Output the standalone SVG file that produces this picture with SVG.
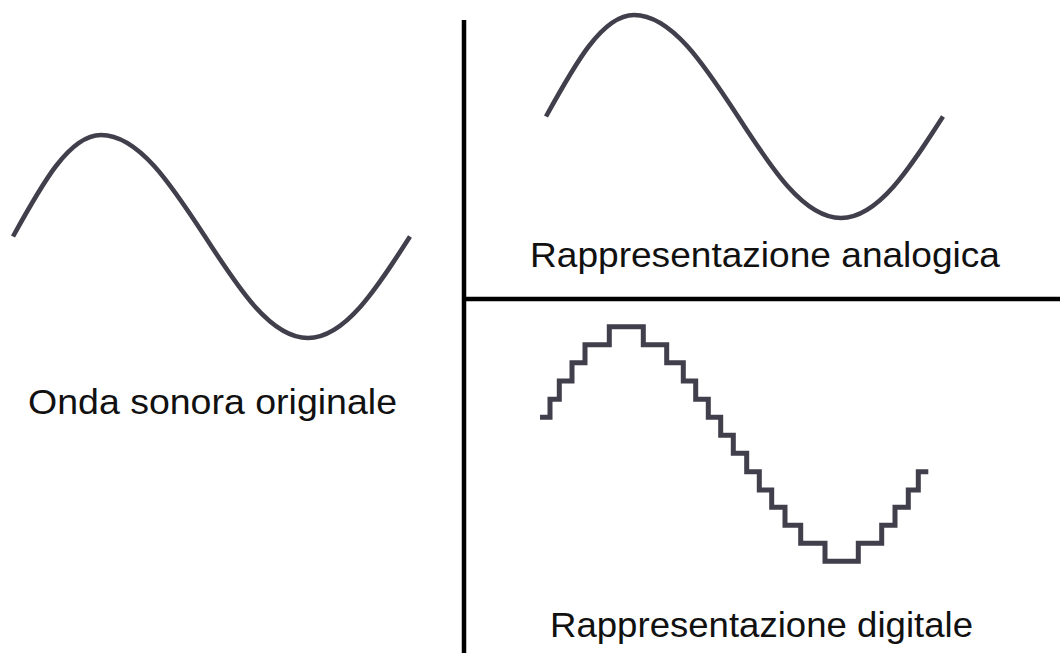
<svg xmlns="http://www.w3.org/2000/svg" xmlns:xlink="http://www.w3.org/1999/xlink" width="1060" height="653" viewBox="0 0 1060 653">
<style>
.wave{fill:none;stroke:#403f4b;stroke-width:4.6;stroke-linecap:butt;stroke-linejoin:round}
.step{fill:none;stroke:#403f4b;stroke-width:5;stroke-linejoin:miter}
.div{stroke:#000;stroke-width:4.5;fill:none}
.lbl{font-family:"Liberation Sans",Arial,sans-serif;font-size:35px;fill:#111}
</style>
<defs>
<path id="sine" d="M13,236.5 C41.7,184.5 69.1,135 101,135 C138.6,135 171.1,184.5 205,236.5 C238.6,288.5 270.7,338 308,338 C345,338 376.7,288.5 410,236.5"/>
</defs>
<rect width="1060" height="653" fill="#fff"/>
<g id="dividers">
<line class="div" x1="464" y1="20" x2="464" y2="653"/>
<line class="div" x1="464" y1="299" x2="1060" y2="299"/>
</g>
<g id="original">
<use href="#sine" xlink:href="#sine" class="wave"/>
<text class="lbl" x="28" y="414" textLength="369" lengthAdjust="spacingAndGlyphs">Onda sonora originale</text>
</g>
<g id="analogica">
<use href="#sine" xlink:href="#sine" class="wave" transform="translate(533,-120)"/>
<text class="lbl" x="530" y="267" textLength="470" lengthAdjust="spacingAndGlyphs">Rappresentazione analogica</text>
</g>
<g id="digitale">
<polyline class="step" points="540,417.3 550,417.3 550,399.3 559.3,399.3 559.3,381 572,381 572,362.7 585,362.7 585,344.7 609.3,344.7 609.3,326.7 643.3,326.7 643.3,344.7 666.7,344.7 666.7,362.7 683.3,362.7 683.3,381 695.7,381 695.7,399.3 708.3,399.3 708.3,417.3 720.7,417.3 720.7,435.3 733.3,435.3 733.3,453.3 746.7,453.3 746.7,471.7 759.3,471.7 759.3,490 771.7,490 771.7,507.3 785,507.3 785,525.3 800.7,525.3 800.7,543.3 825,543.3 825,561.3 858.3,561.3 858.3,543.3 881.7,543.3 881.7,525.3 895,525.3 895,507.3 908.3,507.3 908.3,490 918.3,490 918.3,471.7 928.3,471.7"/>
<text class="lbl" x="550" y="637" textLength="423" lengthAdjust="spacingAndGlyphs">Rappresentazione digitale</text>
</g>
</svg>
